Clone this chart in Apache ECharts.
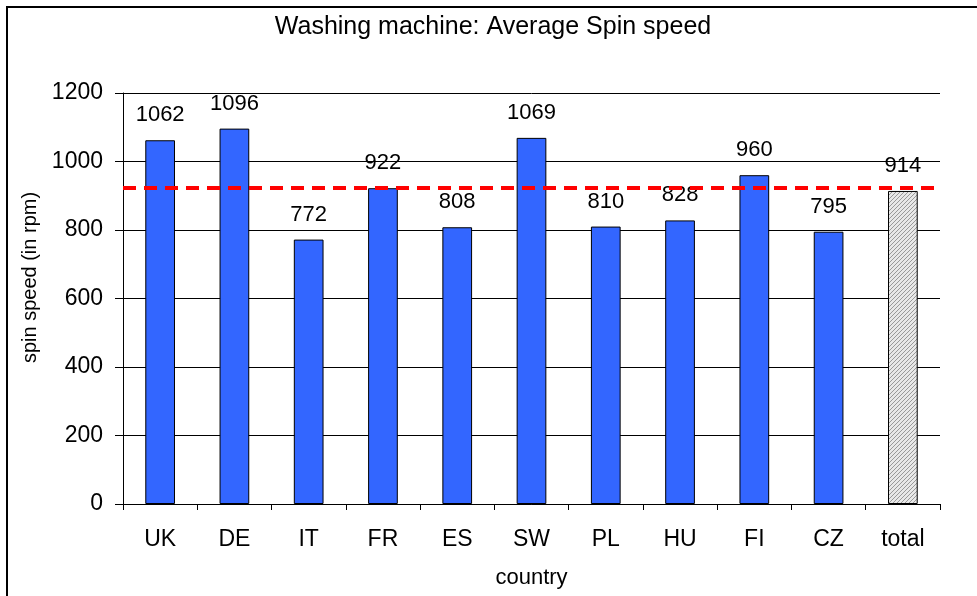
<!DOCTYPE html>
<html>
<head>
	<meta charset="UTF-8">
	<title>Washing machine: Average Spin speed</title>
	<script src="https://cdn.jsdelivr.net/npm/echarts@6/dist/echarts.min.js"></script>
	<style>
		html, body { margin: 0; padding: 0; background: #fff; }
		#chart { width: 977px; height: 596px; }
	</style>
</head>
<body>
	<div id="chart"></div>
	<script>
		var countries = ["UK", "DE", "IT", "FR", "ES", "SW", "PL", "HU", "FI", "CZ", "total"];
		var spinSpeed = [1062, 1096, 772, 922, 808, 1069, 810, 828, 960, 795, 914];
		var averageLine = 922; // red dashed line
		var yTicks = [0, 200, 400, 600, 800, 1000, 1200];

		// hatch pattern for the "total" bar
		function hatch() {
			var c = document.createElement("canvas");
			c.width = 4; c.height = 4;
			var g = c.getContext("2d");
			g.fillStyle = "#e8e8e8";
			g.fillRect(0, 0, 4, 4);
			g.strokeStyle = "#999";
			g.lineWidth = 1;
			g.beginPath();
			g.moveTo(0, 4); g.lineTo(4, 0);
			g.moveTo(-1, 1); g.lineTo(1, -1);
			g.moveTo(3, 5); g.lineTo(5, 3);
			g.stroke();
			return c;
		}

		var barData = spinSpeed.map(function(v, i) {
			if (countries[i] === "total") {
				return { value: v, itemStyle: { color: { image: hatch(), repeat: "repeat" } } };
			}
			return v;
		});

		var font = "Liberation Sans, Arial, sans-serif";
		var myChart = echarts.init(document.getElementById("chart"));
		myChart.setOption({
			animation: false,
			title: {
				text: "Washing machine: Average Spin speed",
				left: 488, top: 10, textAlign: "center",
				textStyle: { fontFamily: font, fontSize: 25, fontWeight: "normal", color: "#000" }
			},
			graphic: [{
				type: "rect", silent: true,
				shape: { x: 7, y: 7, width: 1100, height: 1100 },
				style: { fill: "none", stroke: "#000", lineWidth: 2 }
			}],
			grid: { left: 123, right: 37, top: 93, bottom: 92 },
			xAxis: {
				type: "category",
				data: countries,
				name: "country",
				nameLocation: "middle",
				nameGap: 63,
				nameTextStyle: { fontFamily: font, fontSize: 22, color: "#000" },
				axisLine: { lineStyle: { color: "#000", width: 1 } },
				axisTick: { show: true, length: 6, lineStyle: { color: "#000" } },
				axisLabel: { fontFamily: font, fontSize: 23, color: "#000", margin: 24 }
			},
			yAxis: {
				type: "value",
				min: yTicks[0], max: yTicks[yTicks.length - 1], interval: 200,
				name: "spin speed (in rpm)",
				nameLocation: "middle",
				nameGap: 82,
				nameTextStyle: { fontFamily: font, fontSize: 20, color: "#000", padding: [0, 0, 0, 42] },
				axisLine: { show: true, lineStyle: { color: "#000", width: 1 } },
				axisTick: { show: true, length: 8, lineStyle: { color: "#000" } },
				axisLabel: {
					fontFamily: font, fontSize: 23, color: "#000", margin: 20,
					formatter: function(v) { return String(v); }
				},
				splitLine: { show: true, lineStyle: { color: "#000", width: 1 } }
			},
			series: [{
				type: "bar",
				data: barData,
				barWidth: "40%",
				itemStyle: { color: "#3366ff", borderColor: "#000", borderWidth: 1 },
				label: {
					show: true, position: "top", distance: 14,
					fontFamily: font, fontSize: 22, color: "#000"
				},
				markLine: {
					silent: true, symbol: "none",
					label: { show: false },
					lineStyle: { color: "#ff0000", width: 4, type: [13, 8] },
					data: [{ yAxis: averageLine }]
				}
			}]
		});
	</script>
</body>
</html>
